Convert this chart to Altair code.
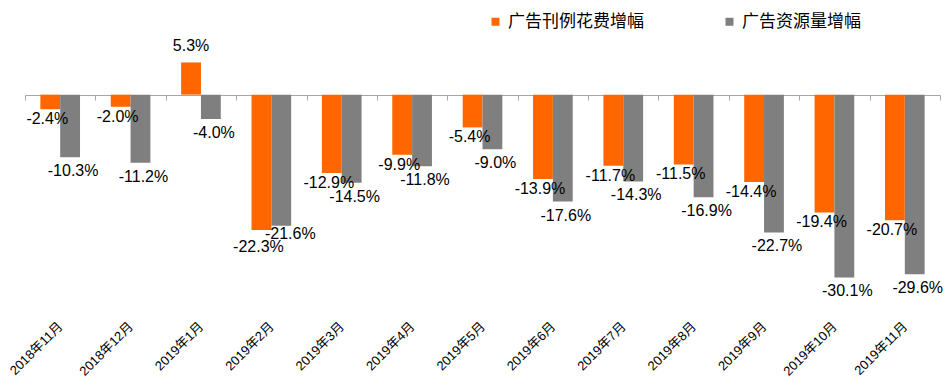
import altair as alt
import pandas as pd

months = ["2018年11月", "2018年12月", "2019年1月", "2019年2月", "2019年3月", "2019年4月",
          "2019年5月", "2019年6月", "2019年7月", "2019年8月", "2019年9月", "2019年10月", "2019年11月"]
spend = [-2.4, -2.0, 5.3, -22.3, -12.9, -9.9, -5.4, -13.9, -11.7, -11.5, -14.4, -19.4, -20.7]
resource = [-10.3, -11.2, -4.0, -21.6, -14.5, -11.8, -9.0, -17.6, -14.3, -16.9, -22.7, -30.1, -29.6]
series = ["广告刊例花费增幅", "广告资源量增幅"]
colors = ["#FF6600", "#7F7F7F"]

rows = []
for m, a, b in zip(months, spend, resource):
    close = abs(a - b) < 1.0  # labels of near-equal bars would collide
    rows.append({"month": m, "series": series[0], "value": a, "label": f"{a:.1f}%", "close": close})
    rows.append({"month": m, "series": series[1], "value": b, "label": f"{b:.1f}%", "close": close})
df = pd.DataFrame(rows)

FONT = "Liberation Sans, Arial, Noto Sans CJK SC"
W, H = 915, 255
ZERO_FROM_TOP = 55  # pixels from plot top to zero line

x_enc = alt.X(
    "month:N", sort=months,
    scale=alt.Scale(paddingInner=0, paddingOuter=0),
    axis=alt.Axis(
        title=None, labelAngle=-45, labelAlign="right", labelBaseline="middle",
        labelFont=FONT, labelFontSize=13, labelColor="#000000",
        domainColor="#A6A6A6", tickColor="#A6A6A6", tickSize=5, tickBand="extent",
        offset=-(H - ZERO_FROM_TOP), labelPadding=224, grid=False,
    ),
)
xoff = alt.XOffset("series:N", sort=series,
                   scale=alt.Scale(paddingOuter=0.775, paddingInner=0))
y_enc = alt.Y("value:Q", scale=alt.Scale(domain=[-33, 9], nice=False, zero=True),
              axis=None)

base = alt.Chart(df)

bars = base.mark_bar().encode(
    x=x_enc, xOffset=xoff, y=y_enc,
    color=alt.Color("series:N", sort=series,
                    scale=alt.Scale(domain=series, range=colors),
                    legend=alt.Legend(
                        orient="none", legendX=462, legendY=-27, direction="horizontal",
                        title=None, symbolType="square", symbolSize=64, symbolStrokeWidth=0,
                        labelFont=FONT, labelFontSize=17, labelColor="#000000",
                        labelOffset=4, columnPadding=77, labelLimit=400,
                    )),
)


def neg_label(series_name, close, dx, dy):
    cond = f"datum.value < 0 && datum.series == '{series_name}' && datum.close == {'true' if close else 'false'}"
    return base.transform_filter(cond).mark_text(
        baseline="top", dy=dy, dx=dx, font=FONT, fontSize=16, color="#000000"
    ).encode(x=x_enc, xOffset=xoff, y=y_enc, text="label:N")


neg_a = neg_label(series[0], False, -3, 2)
neg_b = neg_label(series[1], False, 3, 6)
neg_a_close = neg_label(series[0], True, -3, 9)
neg_b_close = neg_label(series[1], True, 9, 0)

pos_text = base.transform_filter("datum.value >= 0").mark_text(
    baseline="bottom", dy=-8, font=FONT, fontSize=16, color="#000000"
).encode(x=x_enc, xOffset=xoff, y=y_enc, text="label:N")

chart = alt.layer(bars, neg_a, neg_b, neg_a_close, neg_b_close, pos_text).properties(
    width=W, height=H,
    background="#FFFFFF",
    autosize=alt.AutoSizeParams(type="none"),
    padding={"left": 17, "top": 32, "right": 4, "bottom": 84},
).configure_view(stroke=None)

chart.save("out.html", embed_options={"renderer": "svg", "actions": False})
